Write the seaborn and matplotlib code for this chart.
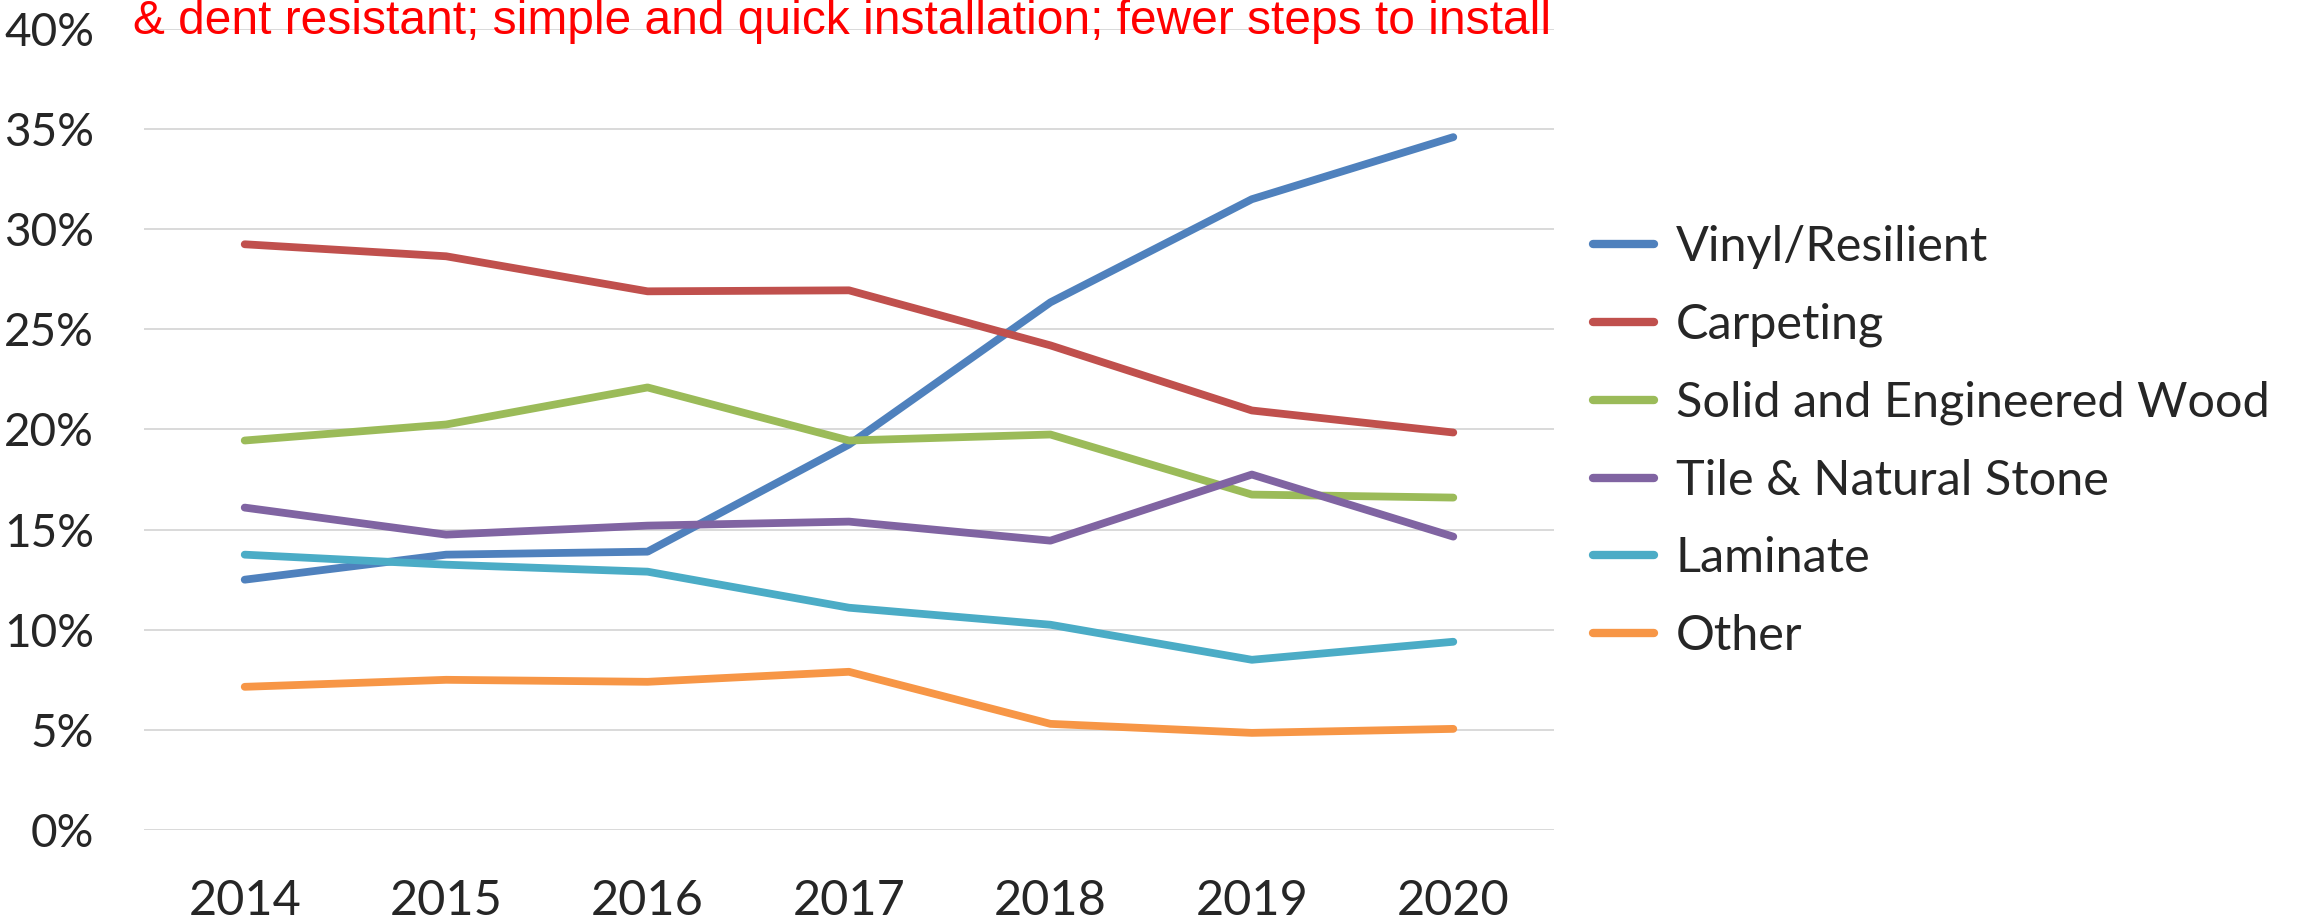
import matplotlib
matplotlib.use("Agg")
import matplotlib.pyplot as plt
import seaborn as sns
import pandas as pd
import numpy as np

years = ["2014", "2015", "2016", "2017", "2018", "2019", "2020"]
vinyl = [12.5, 13.75, 13.9, 19.25, 26.35, 31.5, 34.6]
carpeting = [29.25, 28.65, 26.9, 26.95, 24.2, 20.95, 19.85]
wood = [19.45, 20.25, 22.1, 19.45, 19.75, 16.75, 16.6]
tile = [16.1, 14.75, 15.2, 15.4, 14.45, 17.75, 14.65]
laminate = [13.75, 13.25, 12.9, 11.1, 10.25, 8.5, 9.4]
other = [7.15, 7.5, 7.4, 7.9, 5.3, 4.85, 5.05]

series_names = ["Vinyl/Resilient", "Carpeting", "Solid and Engineered Wood",
                "Tile & Natural Stone", "Laminate", "Other"]
series_values = [vinyl, carpeting, wood, tile, laminate, other]
colors = ["#4F81BD", "#C0504D", "#9BBB59", "#8064A2", "#4BACC6", "#F79646"]
yticks = [0, 5, 10, 15, 20, 25, 30, 35, 40]
note = "& dent resistant; simple and quick installation; fewer steps to install"

rows = []
for name, vals in zip(series_names, series_values):
    for i, (yr, v) in enumerate(zip(years, vals)):
        rows.append({"pos": i, "year": yr, "share": v, "material": name})
df = pd.DataFrame(rows)

sns.set_theme(style="white")
plt.rcParams["font.family"] = ["Lato", "DejaVu Sans"]

fig = plt.figure(figsize=(23.01, 9.21), dpi=100)
ax = fig.add_axes([144/2301, 1-830/921, (1554-144)/2301, (830-29)/921])

sns.lineplot(data=df, x="pos", y="share", hue="material", hue_order=series_names,
             palette=colors, linewidth=5.6, ax=ax, legend=True, sort=False)
for ln in ax.get_lines():
    ln.set_solid_capstyle("round")
    ln.set_solid_joinstyle("round")

ax.set_xlim(-0.5, 6.5)
ax.set_ylim(0, 40)
ax.set_yticks(yticks)
ax.set_yticklabels([f"{t}%" for t in yticks], fontsize=33)
ax.set_xticks(range(len(years)))
ax.set_xticklabels(years, fontsize=35)
ax.tick_params(axis="y", length=0, pad=36)
ax.tick_params(axis="x", length=0, pad=35)
ax.set_xlabel("")
ax.set_ylabel("")
for s in ax.spines.values():
    s.set_visible(False)
ax.yaxis.grid(True, color="#D9D9D9", linewidth=1.4)
ax.set_axisbelow(True)

handles, labels = ax.get_legend_handles_labels()
leg = ax.legend(handles, labels, loc="upper left",
                bbox_to_anchor=(1593/2301, 1-225/921), bbox_transform=fig.transFigure,
                frameon=False, fontsize=35, handlelength=1.25, handletextpad=0.45,
                labelspacing=0.69, borderaxespad=0, borderpad=0)
for h in leg.get_lines():
    h.set_linewidth(6)
    h.set_solid_capstyle("round")

fig.text(133/2301, 1-34/921, note, color="#FF0000", fontsize=34.5,
         family=["Liberation Sans", "DejaVu Sans"], ha="left", va="baseline")

fig.savefig("out.png", dpi=100)
